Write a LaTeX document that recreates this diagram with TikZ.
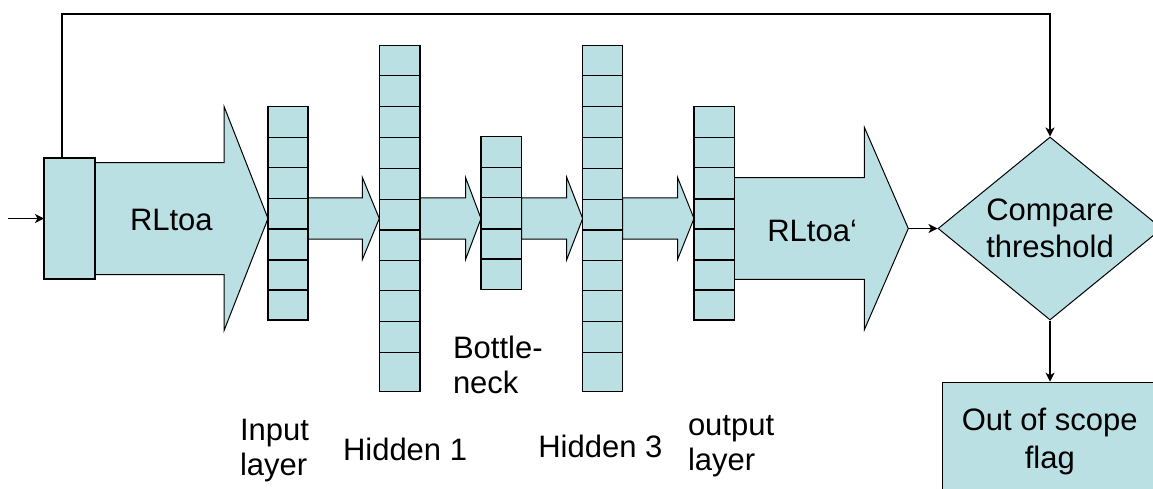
\documentclass[tikz,border=0pt]{standalone}
\usepackage{fontspec}
\setmainfont{Liberation Sans}
\usetikzlibrary{arrows.meta,calc,shapes.geometric,backgrounds}
\definecolor{cellfill}{HTML}{BBE0E3}
\tikzset{
  txt/.style={font=\fontsize{31}{35}\selectfont, inner sep=0pt, outer sep=0pt},
  layerbox/.style={draw, fill=cellfill, line width=1.5pt, inner sep=0pt, outer sep=0pt, anchor=north west},
  cellline/.style={line width=1.5pt},
  fatarr/.style={draw, fill=cellfill, line width=1pt, line join=miter},
  conn/.style={line width=1.2pt, -{Stealth[length=9pt,width=9pt,inset=2.5pt]}},
}
% a layer of cells: name, left x, top y, width, height, list of cell borders
\newcommand\nnlayer[6]{%
  \node[layerbox, minimum width=#4pt, minimum height=#5pt] (#1) at (#2,#3) {};
  \foreach \yy in {#6} \draw[cellline] (#1.west |- 0,\yy) -- (#1.east |- 0,\yy);}
% a block arrow: start, tip, head length, shaft half height, head half height
\newcommand\fatarrow[5]{%
  \draw[fatarr] let \p1=(#1), \p2=(#2) in
    (\x1,\y2+#4pt) -- (\x2-#3pt,\y2+#4pt) -- (\x2-#3pt,\y2+#5pt) -- (\p2)
    -- (\x2-#3pt,\y2-#5pt) -- (\x2-#3pt,\y2-#4pt) -- (\x1,\y2-#4pt) -- cycle;}
\begin{document}
\begin{tikzpicture}[x=1pt,y=-1pt]
\useasboundingbox (0,0) rectangle (1153,488);
\clip (0,0) rectangle (1153,488);
\coordinate (axis) at (0,218.5);
\coordinate (src) at (8,218.5);
\coordinate (fbl) at (62,14);
\coordinate (tip2) at (908.3,228.5);

% input selector box
\node[draw, fill=cellfill, line width=1.5pt, inner sep=0pt, outer sep=0pt, anchor=north west,
      minimum width=51pt, minimum height=121pt] (inbox) at (44,158) {};

% network layers
\nnlayer{inl}{268}{106.7}{40}{213.3}{137.7,167.7,198.7,229,260,290}
\nnlayer{hid1}{379.3}{45.7}{40.7}{346}{75.7,106.7,137.7,168.3,199.3,230,260.7,290.7,321.7,352.3}
\nnlayer{bott}{481}{136.7}{40.7}{152.6}{167.7,197.7,229,259}
\nnlayer{hid3}{582.7}{45.7}{40}{346}{75.7,106.7,137.7,168.3,199.3,230,260.7,290.7,321.7,352.3}
\nnlayer{outl}{694}{106.7}{40.3}{213.3}{137.7,167.7,199,229,260,290}

% block arrows behind the layers
\begin{scope}[on background layer]
  \fatarrow{inbox.east}{inl.west |- axis}{44}{56}{112.2}
  \fatarrow{inl.east}{hid1.west |- axis}{17}{20.7}{41.2}
  \fatarrow{hid1.east}{bott.west |- axis}{15.5}{20.7}{41.2}
  \fatarrow{bott.east}{hid3.west |- axis}{16}{20.7}{41.2}
  \fatarrow{hid3.east}{outl.west |- axis}{16.5}{20.7}{41.2}
  \fatarrow{outl.east}{tip2}{44}{50.8}{101.3}
\end{scope}

% decision and result
\node[diamond, draw, fill=cellfill, line width=1pt, minimum width=224pt, minimum height=183pt,
      aspect=1.224, inner sep=0pt, align=center, font=\fontsize{31}{37}\selectfont] (cmp)
      at (1050,228.5) {Compare\\threshold};
\node[draw, fill=cellfill, line width=1.5pt, inner sep=0pt, anchor=north west,
      minimum width=214.6pt, minimum height=118.6pt, align=center,
      font=\fontsize{31}{38}\selectfont] (flag) at (941.7,381.7) {Out of scope\\flag};

% labels (multi-line labels are placed by the baseline of their last line)
\node[txt, anchor=base west] (ta) at (130,230.7) {RLtoa};
\node[txt, anchor=base west] (tb) at (767.3,241.7) {RLtoa‘};
\node[txt, anchor=base west, align=left] (tbn) at (453,393) {Bottle-\\neck};
\node[txt, anchor=base west, align=left] (til) at (240,475) {Input\\layer};
\node[txt, anchor=base west] (th1) at (343,460) {Hidden 1};
\node[txt, anchor=base west] (th3) at (538.3,457) {Hidden 3};
\node[txt, anchor=base west, align=left] (tol) at (688,470) {output\\layer};

% connectors
\draw[conn] (src) -- (inbox.west);
\draw[conn] (inbox.north -| fbl) -- (fbl) -| (cmp.north);
\draw[conn] (tip2) -- (cmp.west);
\draw[conn] (cmp.south) -- (cmp.south |- flag.north);
\end{tikzpicture}
\end{document}
